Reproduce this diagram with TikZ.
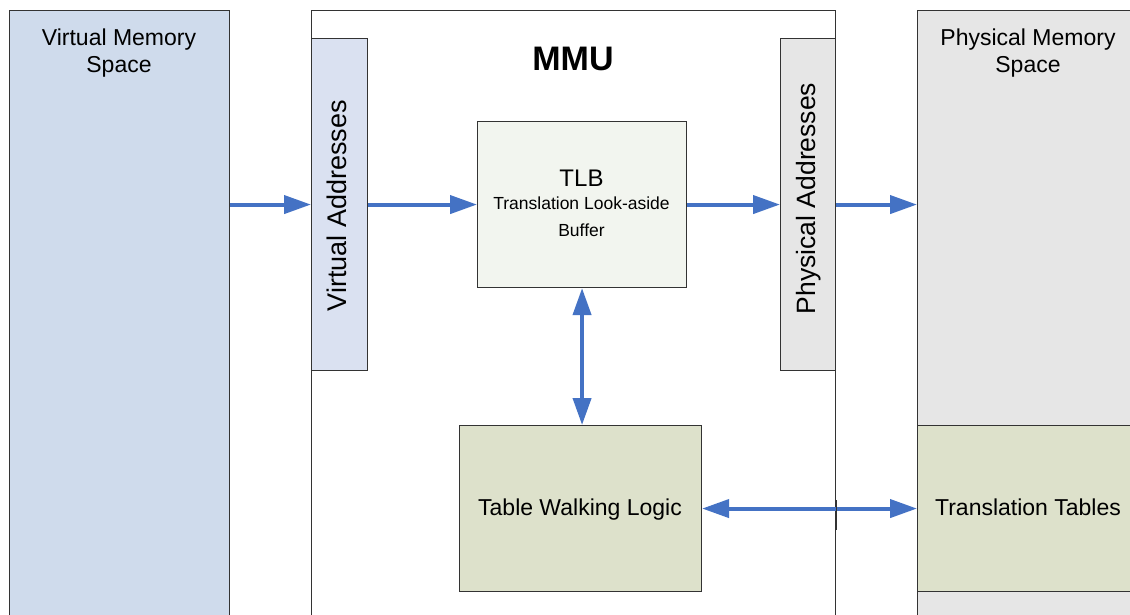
\documentclass[tikz,border=0pt]{standalone}
\usepackage{fontspec}
\setmainfont{Liberation Sans}
\usetikzlibrary{arrows.meta}

\definecolor{vmfill}{HTML}{CFDBEC}
\definecolor{vafill}{HTML}{DAE1F1}
\definecolor{tlbfill}{HTML}{F2F5EF}
\definecolor{walkfill}{HTML}{DDE1CB}
\definecolor{pmfill}{HTML}{E6E6E6}
\definecolor{arrowblue}{HTML}{4472C4}
\definecolor{edgegray}{HTML}{333333}

\begin{document}
\begin{tikzpicture}[x=1pt,y=-1pt,
  block/.style={draw=edgegray, line width=1.1pt, rectangle, anchor=north west, inner sep=0pt},
  txt/.style={inner sep=0pt, text=black},
  flow/.style={draw=arrowblue, line width=4pt, -{Triangle[length=27pt,width=18pt]}},
  flowboth/.style={draw=arrowblue, line width=4pt,
    {Triangle[length=27pt,width=18pt]}-{Triangle[length=27pt,width=18pt]}}]

\useasboundingbox (0,0) rectangle (1130,614);
\clip (0,0) rectangle (1130,614);

% memory spaces and the MMU frame
\node[block, fill=vmfill, minimum width=220pt, minimum height=620pt] (vms) at (9,10) {};
\node[block, fill=white, minimum width=524pt, minimum height=620pt] (mmu) at (311,10) {};
\node[block, fill=pmfill, minimum width=240pt, minimum height=620pt] (pms) at (917,10) {};

% address strips inside the MMU
\node[block, fill=vafill, minimum width=56pt, minimum height=332pt] (va) at (311,38) {};
\node[block, fill=pmfill, minimum width=55pt, minimum height=332pt] (pa) at (780,38) {};

% TLB, table walker and translation tables
\node[block, fill=tlbfill, minimum width=209pt, minimum height=166pt] (tlb) at (477,121) {};
\node[block, fill=walkfill, minimum width=242pt, minimum height=166pt] (twl) at (459,425) {};
\node[block, fill=walkfill, minimum width=240pt, minimum height=166pt] (tt) at (917,425) {};

% labels
\node[txt, anchor=north, align=center, font=\fontsize{23}{27}\selectfont]
  (vmslabel) at (119,29) {Virtual Memory\\Space};
\node[txt, anchor=north, align=center, font=\fontsize{23}{27}\selectfont]
  (pmslabel) at (1028,29) {Physical Memory\\Space};
\node[txt, anchor=base, font=\bfseries\fontsize{34}{40}\selectfont] (mmulabel) at (573,70) {MMU};
\node[txt, anchor=base, rotate=90, font=\fontsize{27}{32}\selectfont] (valabel) at (346.5,205.5) {Virtual Addresses};
\node[txt, anchor=base, rotate=90, font=\fontsize{26.5}{32}\selectfont] (palabel) at (815,198.5) {Physical Addresses};
\node[txt, anchor=base, font=\fontsize{24}{28}\selectfont] (tlbtitle) at (581.5,186) {TLB};
\node[txt, anchor=base, font=\fontsize{17.5}{21}\selectfont] (tlbline1) at (581.5,209) {Translation Look-aside};
\node[txt, anchor=base, font=\fontsize{17.5}{21}\selectfont] (tlbline2) at (581.5,236) {Buffer};
\node[txt, anchor=base, font=\fontsize{23}{28}\selectfont] (twllabel) at (580,515) {Table Walking Logic};
\node[txt, anchor=base, font=\fontsize{23}{28}\selectfont] (ttlabel) at (1028,515) {Translation Tables};

% address flow
\draw[flow] (vms.east |- va.west) -- (va.west);
\draw[flow] (va.east) -- (tlb.west);
\draw[flow] (tlb.east) -- (pa.west);
\draw[flow] (pa.east) -- (pa.east -| pms.west);

% table walk paths
\draw[flowboth] (tlb.south) -- (tlb.south |- twl.north);
\draw[flowboth] (twl.east) -- (tt.west);

% MMU right edge passes over the walk path
\draw[draw=edgegray, line width=1.1pt] ([yshift=-490pt]mmu.north east) -- ([yshift=-520pt]mmu.north east);
\end{tikzpicture}
\end{document}
